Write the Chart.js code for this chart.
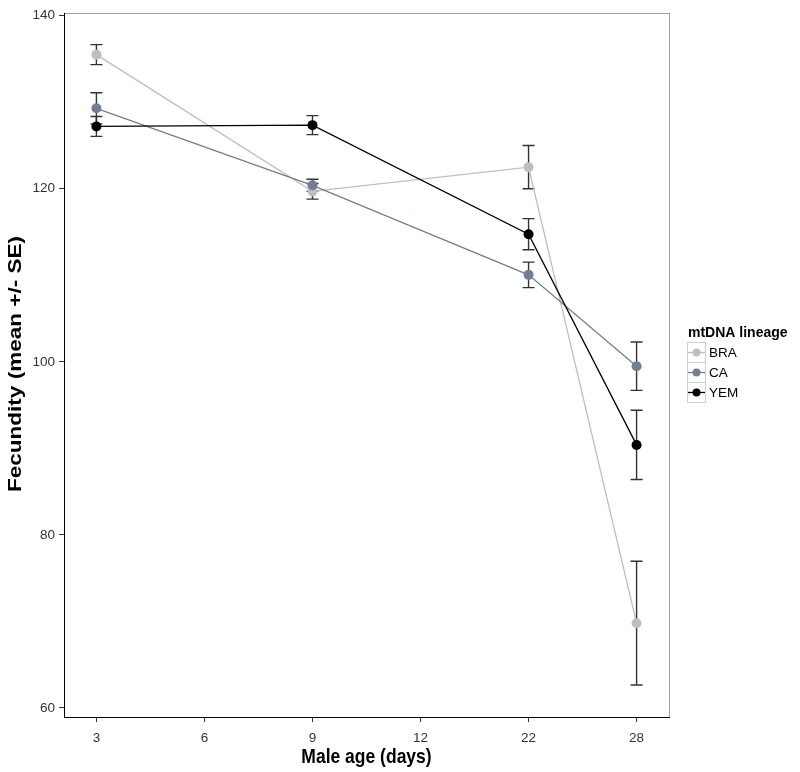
<!DOCTYPE html>
<html>
<head>
<meta charset="utf-8">
<title>Fecundity by male age</title>
<script src="https://cdn.jsdelivr.net/npm/chart.js@4"></script>
<style>
    html, body { margin: 0; padding: 0; background: #fff; }
    canvas { display: block; }
</style>
</head>
<body>
<canvas id="fecundity-chart" width="800" height="772"></canvas>
<script>
// x axis tick labels (evenly spaced, as in the original figure)
const ageLabels = ['3', '6', '9', '12', '22', '28'];
// ages that were actually measured
const sampledAges = ['3', '9', '22', '28'];

const lineages = ['BRA', 'CA', 'YEM'];

const braMean = [135.5, 119.7, 122.5, 69.8];
const braSE = [1.15, 0.9, 2.5, 7.15];
const caMean = [129.3, 120.4, 110.05, 99.5];
const caSE = [1.8, 0.7, 1.47, 2.8];
const yemMean = [127.2, 127.35, 114.75, 90.4];
const yemSE = [1.15, 1.1, 1.8, 4.0];

const yTicks = [60, 80, 100, 120, 140];

const lineageColors = ['#bebebe', '#708090', '#000000'];

class FecundityChart {
    constructor() {
        Chart.defaults.font.family = '"Liberation Sans", Arial, sans-serif';
        this.render();
    }

    buildDatasets() {
        const means = [braMean, caMean, yemMean];
        const ses = [braSE, caSE, yemSE];
        return lineages.map((name, i) => ({
            label: name,
            data: sampledAges.map((age, j) => ({ x: ageLabels.indexOf(age), y: means[i][j] })),
            se: ses[i],
            borderColor: lineageColors[i],
            backgroundColor: lineageColors[i],
            pointBackgroundColor: lineageColors[i],
            pointBorderWidth: 0,
            pointRadius: 5,
            borderWidth: 1.3,
            tension: 0,
            // YEM on top, BRA at the bottom
            order: lineages.length - i
        }));
    }

    errorBarPlugin() {
        return {
            id: 'errorBars',
            beforeDatasetsDraw(chart) {
                const { ctx, scales } = chart;
                ctx.save();
                ctx.strokeStyle = '#333';
                ctx.lineWidth = 1.4;
                chart.data.datasets.forEach(ds => {
                    ds.data.forEach((pt, j) => {
                        const x = scales.x.getPixelForValue(pt.x);
                        const top = scales.y.getPixelForValue(pt.y + ds.se[j]);
                        const bottom = scales.y.getPixelForValue(pt.y - ds.se[j]);
                        ctx.beginPath();
                        ctx.moveTo(x, top);
                        ctx.lineTo(x, bottom);
                        ctx.moveTo(x - 6, top);
                        ctx.lineTo(x + 6, top);
                        ctx.moveTo(x - 6, bottom);
                        ctx.lineTo(x + 6, bottom);
                        ctx.stroke();
                    });
                });
                ctx.restore();
            }
        };
    }

    framePlugin() {
        return {
            id: 'frame',
            beforeDraw(chart) {
                const { ctx, chartArea: a } = chart;
                ctx.save();
                ctx.fillStyle = '#fff';
                ctx.fillRect(0, 0, chart.width, chart.height);
                ctx.strokeStyle = '#a0a0a0';
                ctx.lineWidth = 1;
                ctx.strokeRect(a.left + 0.5, a.top + 0.5, a.right - a.left, a.bottom - a.top);
                ctx.restore();
            },
            afterDraw(chart) {
                const { ctx, chartArea: a } = chart;
                ctx.save();
                ctx.fillStyle = '#000';
                ctx.textAlign = 'center';
                ctx.textBaseline = 'middle';
                ctx.font = 'bold 17.5px "Liberation Sans", Arial, sans-serif';
                ctx.save();
                ctx.translate((a.left + a.right) / 2, 757);
                ctx.scale(1, 1.15);
                ctx.fillText('Male age (days)', 0, 0);
                ctx.restore();

                // y title, stretched along its length like the source image
                const yTitle = 'Fecundity (mean +/- SE)';
                ctx.translate(16, 364);
                ctx.rotate(-Math.PI / 2);
                const w = ctx.measureText(yTitle).width;
                ctx.scale(256 / w, 1);
                ctx.fillText(yTitle, 0, 0);
                ctx.restore();
            }
        };
    }

    legendPlugin() {
        return {
            id: 'lineageLegend',
            afterDraw(chart) {
                const ctx = chart.ctx;
                const left = 687;
                const top = 342;
                ctx.save();
                ctx.fillStyle = '#000';
                ctx.textBaseline = 'middle';
                ctx.textAlign = 'left';
                ctx.font = 'bold 14px "Liberation Sans", Arial, sans-serif';
                ctx.fillText('mtDNA lineage', 688, 333);

                ctx.font = '13.5px "Liberation Sans", Arial, sans-serif';
                lineages.forEach((name, i) => {
                    const y = top + i * 20;
                    ctx.fillStyle = '#fff';
                    ctx.fillRect(left, y, 18, 20);
                    ctx.strokeStyle = '#d0d0d0';
                    ctx.lineWidth = 1;
                    ctx.strokeRect(left + 0.5, y + 0.5, 18, 20);

                    ctx.strokeStyle = lineageColors[i];
                    ctx.lineWidth = 1.3;
                    ctx.beginPath();
                    ctx.moveTo(left + 1, y + 10.5);
                    ctx.lineTo(left + 18, y + 10.5);
                    ctx.stroke();
                    ctx.fillStyle = lineageColors[i];
                    ctx.beginPath();
                    ctx.arc(left + 9.5, y + 10.5, 4, 0, Math.PI * 2);
                    ctx.fill();

                    ctx.fillStyle = '#000';
                    ctx.fillText(name, 709, y + 11);
                });
                ctx.restore();
            }
        };
    }

    render() {
        const ctx = document.getElementById('fecundity-chart').getContext('2d');
        this.chart = new Chart(ctx, {
            type: 'line',
            data: { datasets: this.buildDatasets() },
            options: {
                responsive: false,
                animation: false,
                devicePixelRatio: 1,
                layout: { padding: { top: 13, right: 131, bottom: 0, left: 0 } },
                plugins: {
                    legend: { display: false },
                    tooltip: { enabled: false }
                },
                scales: {
                    x: {
                        type: 'linear',
                        min: -0.3,
                        max: 5.3,
                        afterBuildTicks: axis => {
                            axis.ticks = ageLabels.map((_, i) => ({ value: i }));
                        },
                        afterFit: axis => { axis.height = 55; },
                        ticks: {
                            callback: v => ageLabels[v],
                            color: '#333',
                            font: { size: 13.5 },
                            padding: 8,
                            maxRotation: 0
                        },
                        grid: {
                            drawOnChartArea: false,
                            drawTicks: true,
                            tickLength: 5,
                            tickColor: '#333'
                        },
                        border: { display: true, color: '#000', width: 1 }
                    },
                    y: {
                        type: 'linear',
                        min: 58.96,
                        max: 140.31,
                        afterBuildTicks: axis => {
                            axis.ticks = yTicks.map(v => ({ value: v }));
                        },
                        afterFit: axis => { axis.width = 64; },
                        ticks: {
                            color: '#333',
                            font: { size: 13.5 },
                            padding: 4
                        },
                        grid: {
                            drawOnChartArea: false,
                            drawTicks: true,
                            tickLength: 5,
                            tickColor: '#333'
                        },
                        border: { display: true, color: '#000', width: 1 }
                    }
                }
            },
            plugins: [this.framePlugin(), this.errorBarPlugin(), this.legendPlugin()]
        });
    }
}

document.addEventListener('DOMContentLoaded', () => {
    new FecundityChart();
});
</script>
</body>
</html>
